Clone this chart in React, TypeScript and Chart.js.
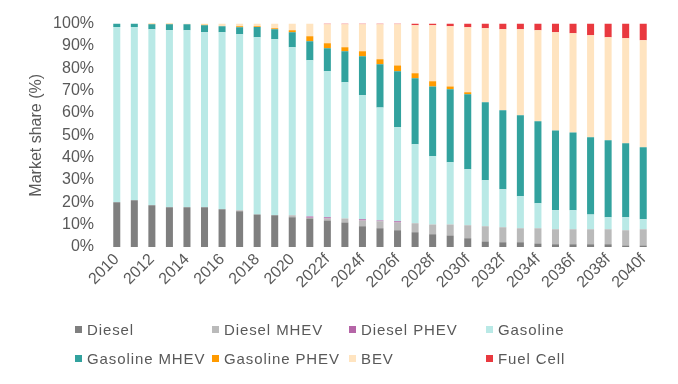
import React, { useEffect, useRef } from "react";
import { Chart, registerables } from "chart.js";

Chart.register(...registerables);

const years = [
  "2010", "2011", "2012", "2013", "2014", "2015", "2016", "2017", "2018", "2019", "2020", "2021",
  "2022f", "2023f", "2024f", "2025f", "2026f", "2027f", "2028f", "2029f", "2030f", "2031f",
  "2032f", "2033f", "2034f", "2035f", "2036f", "2037f", "2038f", "2039f", "2040f",
];

const diesel = [20, 20.9, 18.7, 17.8, 17.8, 17.8, 16.9, 16.0, 14.6, 14.2, 13.3, 12.8, 11.9, 11.0, 9.3, 8.4, 7.5, 6.6, 5.7, 5.2, 3.9, 2.5, 2.1, 2.1, 1.6, 1.2, 1.2, 1.2, 1.2, 0.7, 0.7];
const dieselMhev = [0, 0, 0, 0, 0, 0, 0, 0.4, 0, 0, 0.9, 0.3, 0.9, 1.8, 2.6, 3.1, 3.5, 4.0, 4.4, 4.9, 5.8, 6.8, 6.7, 6.3, 6.8, 6.7, 6.7, 6.7, 6.7, 6.8, 7.2];
const dieselPhev = [0, 0, 0, 0, 0, 0, 0, 0, 0, 0, 0, 0.6, 0.5, 0, 0.5, 0.4, 0.5, 0, 0, 0, 0, 0, 0, 0, 0, 0, 0, 0, 0, 0, 0];
const gasoline = [78.5, 77.6, 78.8, 79.2, 79.2, 78.3, 79.2, 78.8, 79.3, 78.8, 75.2, 69.9, 65.4, 60.9, 55.5, 50.6, 42.1, 35.4, 30.5, 27.8, 25.1, 20.6, 17.0, 14.3, 11.2, 8.5, 8.5, 6.7, 5.4, 5.8, 4.5];
const gasolineMhev = [1.5, 1.5, 2.2, 2.7, 2.7, 3.2, 2.7, 3.2, 4.6, 4.5, 6.7, 8.5, 10.3, 13.9, 17.5, 19.3, 25.1, 29.5, 31.3, 32.7, 33.6, 34.9, 35.4, 36.3, 36.7, 35.8, 34.9, 34.5, 34.5, 33.1, 32.2];
const gasolinePhev = [0, 0, 0.3, 0.3, 0, 0.2, 0, 0.4, 0.3, 0.4, 0.9, 2.2, 2.2, 1.8, 2.2, 2.2, 2.6, 2.3, 2.3, 1.3, 0.9, 0, 0, 0, 0, 0, 0, 0, 0, 0, 0];
const bev = [0, 0, 0, 0, 0.3, 0.5, 1.2, 1.2, 1.2, 2.1, 3.0, 5.7, 8.5, 10.3, 12.1, 15.7, 18.4, 21.5, 25.1, 26.9, 29.1, 33.1, 36.3, 38.5, 40.7, 43.9, 44.4, 45.7, 46.1, 47.0, 47.9];
const fuelCell = [0, 0, 0, 0, 0, 0, 0, 0, 0, 0, 0, 0, 0.3, 0.3, 0.3, 0.3, 0.3, 0.7, 0.7, 1.2, 1.6, 2.1, 2.5, 2.5, 3.0, 3.9, 4.3, 5.2, 6.1, 6.6, 7.5];

const yTicks = [0, 10, 20, 30, 40, 50, 60, 70, 80, 90, 100];

const seriesNames = ["Diesel", "Diesel MHEV", "Diesel PHEV", "Gasoline", "Gasoline MHEV", "Gasoline PHEV", "BEV", "Fuel Cell"];
const seriesData = [diesel, dieselMhev, dieselPhev, gasoline, gasolineMhev, gasolinePhev, bev, fuelCell];
const seriesColors = ["#7f7f7f", "#bababa", "#b565a7", "#b9e9e6", "#32a29e", "#ff9a00", "#ffe4c0", "#e9393f"];

const FONT = "'Liberation Sans', Arial, sans-serif";
const TEXT = "#595959";

export default function App() {
  const ref = useRef<HTMLCanvasElement | null>(null);

  useEffect(() => {
    document.body.style.margin = "0";
    const canvas = ref.current;
    if (!canvas) return;
    const chart = new Chart(canvas, {
      type: "bar",
      data: {
        labels: years,
        datasets: seriesNames.map((name, i) => ({
          label: name,
          data: seriesData[i],
          backgroundColor: seriesColors[i],
          borderWidth: 0,
          barPercentage: 0.4,
          categoryPercentage: 1,
        })),
      },
      options: {
        responsive: false,
        animation: false,
        layout: { padding: { left: 0, right: 26, top: 23, bottom: 0 } },
        plugins: {
          legend: { display: false },
          tooltip: { enabled: false },
        },
        scales: {
          x: {
            stacked: true,
            grid: { display: false, drawTicks: false },
            border: { display: false },
            ticks: {
              autoSkip: false,
              maxRotation: 45,
              minRotation: 45,
              padding: 3,
              color: TEXT,
              font: { family: FONT, size: 16 },
              callback: (_v: any, idx: number) => (idx % 2 === 0 ? years[idx] : ""),
            },
            afterFit: (scale: any) => {
              scale.height = 384 - 247;
            },
          },
          y: {
            stacked: true,
            min: 0,
            max: 100,
            grid: { display: false, drawTicks: false },
            border: { display: false },
            afterBuildTicks: (scale: any) => {
              scale.ticks = yTicks.map((v) => ({ value: v }));
            },
            ticks: {
              padding: 14,
              color: TEXT,
              font: { family: FONT, size: 16 },
              callback: (v: any) => v + "%",
            },
            title: {
              display: true,
              text: "Market share (%)",
              color: TEXT,
              font: { family: FONT, size: 16 },
              padding: { top: 27, bottom: 0 },
            },
            afterFit: (scale: any) => {
              scale.width = 108;
            },
          },
        },
      },
    });
    return () => chart.destroy();
  }, []);

  const colX = [75, 212, 349, 486];
  const rowY = [329, 358];

  return (
    <div style={{ position: "relative", width: 678, height: 384, fontFamily: FONT }}>
      <canvas ref={ref} width={678} height={384} style={{ display: "block", width: 678, height: 384 }} />
      {seriesNames.map((name, i) => {
        const x = colX[i % 4];
        const y = rowY[Math.floor(i / 4)];
        return (
          <div
            key={name}
            style={{
              position: "absolute",
              left: x,
              top: y - 10,
              height: 20,
              display: "flex",
              alignItems: "center",
              whiteSpace: "nowrap",
              color: TEXT,
              fontSize: 15,
              letterSpacing: 0.9,
            }}
          >
            <span style={{ display: "inline-block", width: 7, height: 7, background: seriesColors[i], marginRight: 5 }} />
            <span>{name}</span>
          </div>
        );
      })}
    </div>
  );
}
